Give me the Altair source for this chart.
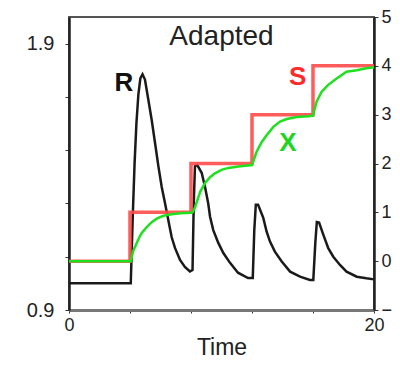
import altair as alt
import pandas as pd

# R (black, left axis)
r_t = [0, 4.05, 4.18, 4.3, 4.42, 4.55, 4.68, 4.82, 4.98, 5.2, 5.42, 5.64, 5.86, 6.08, 6.3,
       6.51, 6.73, 6.95, 7.28, 7.6, 7.93, 8.1, 8.18, 8.26, 8.4, 8.7, 8.92, 9.13, 9.25, 9.46,
       9.79, 10.12, 10.56, 11.08, 11.74, 12.05, 12.15, 12.25, 12.4, 12.74, 12.96, 13.18, 13.5,
       13.95, 14.5, 15.15, 15.8, 16.02, 16.15, 16.25, 16.4, 16.68, 17.0, 17.33, 17.77, 18.2,
       18.87, 19.5, 20]
r_v = [1.0, 1.0, 1.25, 1.45, 1.6, 1.71, 1.77, 1.785, 1.765, 1.69, 1.614, 1.528, 1.44, 1.362, 1.30,
       1.238, 1.174, 1.133, 1.088, 1.062, 1.045, 1.05, 1.30, 1.44, 1.445, 1.415, 1.362, 1.30, 1.25, 1.2,
       1.152, 1.114, 1.077, 1.04, 1.02, 1.02, 1.2, 1.295, 1.295, 1.246, 1.194, 1.157, 1.119,
       1.082, 1.044, 1.025, 1.013, 1.013, 1.15, 1.23, 1.228, 1.182, 1.132, 1.10, 1.069, 1.044,
       1.025, 1.019, 1.015]

# S (red steps, right axis)
s_t = [0, 4, 8, 12, 16, 20]
s_v = [0, 1, 2, 3, 4, 4]

# X (green, right axis)
x_t = [0, 4.05, 4.2, 4.44, 4.66, 4.77, 5.1, 5.42, 5.75, 6.19, 6.73, 7.3, 8.0,
       8.1, 8.26, 8.6, 8.92, 9.25, 9.57, 10.0, 10.45, 11.1, 12.0,
       12.07, 12.3, 12.64, 12.96, 13.4, 13.84, 14.28, 14.93, 15.7, 16.0,
       16.1, 16.24, 16.57, 17.0, 17.55, 18.2, 18.87, 19.5, 20]
x_v = [0, 0.0, 0.2, 0.37, 0.52, 0.577, 0.70, 0.80, 0.87, 0.93, 0.96, 0.98, 0.99,
       1.0, 1.1, 1.42, 1.6, 1.72, 1.8, 1.87, 1.91, 1.94, 1.97,
       2.03, 2.24, 2.44, 2.58, 2.75, 2.86, 2.91, 2.95, 2.97, 2.98,
       3.1, 3.27, 3.47, 3.61, 3.74, 3.88, 3.91, 3.95, 3.97]

# annotation labels
title_txt = ["Adapted"]; title_t = [10.0]; title_v = [1.926]
lab_r = ["R"]; lab_r_t = [3.6]; lab_r_v = [1.753]
lab_sx = ["S", "X"]; lab_sx_t = [15.0, 14.36]; lab_sx_v = [3.77, 2.42]; lab_sx_c = ["#ff2a2a", "#1fd61f"]

left_ticks = [0.9, 1.0, 1.1, 1.2, 1.3, 1.4, 1.5, 1.6, 1.7, 1.8, 1.9]
right_ticks = [-1, 0, 1, 2, 3, 4, 5]
x_ticks = [0, 2, 4, 6, 8, 10, 12, 14, 16, 18, 20]

FONT = "Liberation Sans"

dfR = pd.DataFrame({"t": r_t, "v": r_v})
dfS = pd.DataFrame({"t": s_t, "v": s_v})
dfX = pd.DataFrame({"t": x_t, "v": x_v})
dfT = pd.DataFrame({"t": title_t, "v": title_v, "lab": title_txt})
dfLR = pd.DataFrame({"t": lab_r_t, "v": lab_r_v, "lab": lab_r})
dfLSX = pd.DataFrame({"t": lab_sx_t, "v": lab_sx_v, "lab": lab_sx, "c": lab_sx_c})

xenc = alt.X("t:Q", scale=alt.Scale(domain=[0, 20], nice=False, zero=False),
             axis=alt.Axis(title="Time", values=x_ticks,
                           labelExpr="datum.value % 10 == 0 ? datum.label : ''",
                           labelFontSize=18, titleFontSize=23, titleFontWeight="normal",
                           labelFont=FONT, titleFont=FONT, labelColor="#222", titleColor="#222",
                           tickSize=3, labelPadding=3, titlePadding=2, grid=False,
                           domainColor="#777", domainWidth=3, tickColor="#333",
                           labelFlush=False))

yL = alt.Scale(domain=[0.9, 2.0], nice=False, zero=False)
yR = alt.Scale(domain=[-1, 5], nice=False, zero=False)

axL = alt.Axis(orient="left", title=None, values=left_ticks,
               labelExpr="(round(datum.value*10) % 5 == 4) ? format(datum.value, '.1f') : ''",
               labelFontSize=20, labelFont=FONT, labelColor="#222", tickSize=4, labelPadding=11,
               grid=False, domainColor="#222", domainWidth=2.5, tickColor="#333")
axR = alt.Axis(orient="right", title=None, values=right_ticks,
               labelFontSize=18, labelFont=FONT, labelColor="#222", tickSize=4, labelPadding=3,
               grid=False, domainColor="#222", domainWidth=2.5, tickColor="#333", labelFlush=False)

r_line = alt.Chart(dfR).mark_line(color="#1a1a1a", strokeWidth=2.5).encode(
    x=xenc, y=alt.Y("v:Q", scale=yL, axis=axL))
r_text = alt.Chart(dfLR).mark_text(fontSize=26, fontWeight="bold", font=FONT, color="#111",
                                   baseline="middle").encode(
    x="t:Q", y=alt.Y("v:Q", scale=yL), text="lab:N")
t_text = alt.Chart(dfT).mark_text(fontSize=28, font=FONT, color="#222",
                                  baseline="middle").encode(
    x="t:Q", y=alt.Y("v:Q", scale=yL), text="lab:N")
left = alt.layer(r_line, r_text, t_text)

s_line = alt.Chart(dfS).mark_line(color="#ff4a4a", strokeWidth=3.5, interpolate="step-after",
                                  opacity=0.9).encode(
    x="t:Q", y=alt.Y("v:Q", scale=yR, axis=axR))
x_line = alt.Chart(dfX).mark_line(color="#1fe01f", strokeWidth=2.5).encode(
    x="t:Q", y=alt.Y("v:Q", scale=yR))
sx_text = alt.Chart(dfLSX).mark_text(fontSize=26, fontWeight="bold", font=FONT,
                                     baseline="middle").encode(
    x="t:Q", y=alt.Y("v:Q", scale=yR), text="lab:N",
    color=alt.Color("c:N", scale=None))
right = alt.layer(s_line, x_line, sx_text)

chart = alt.layer(left, right).resolve_scale(y="independent").properties(
    width=305, height=293,
    autosize=alt.AutoSizeParams(type="none"),
    padding={"left": 61, "top": 9, "right": 18, "bottom": 52},
).configure_view(stroke="#555", strokeWidth=2)

chart.save("out.html", embed_options={"renderer": "svg", "actions": False})
